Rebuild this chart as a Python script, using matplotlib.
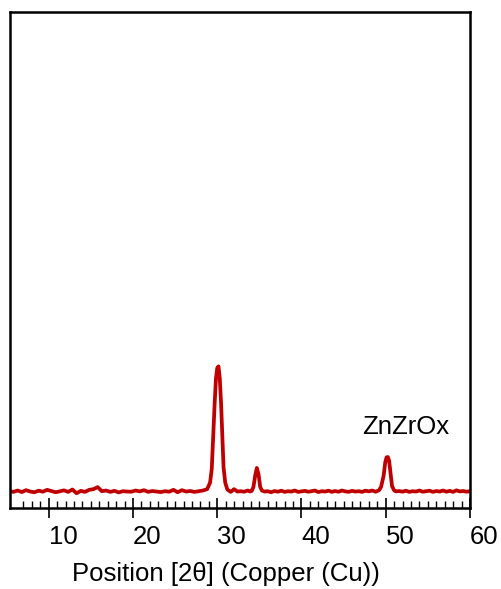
import numpy as np
import matplotlib.pyplot as plt
from matplotlib.ticker import FixedLocator

plt.rcParams['font.family'] = ['Liberation Sans', 'DejaVu Sans']

# 2-theta positions (deg) and intensities (counts)
two_theta = [
    5.4, 5.8, 6.3, 6.8, 7.3, 7.8, 8.3, 8.8, 9.3, 9.8,
    10.3, 10.8, 11.3, 11.8, 12.3, 12.8, 13.3, 13.8, 14.3, 14.8,
    15.3, 15.8, 16.3, 16.8, 17.3, 17.8, 18.3, 18.8, 19.3, 19.8,
    20.3, 20.8, 21.3, 21.8, 22.3, 22.8, 23.3, 23.8, 24.3, 24.8,
    25.3, 25.8, 26.3, 26.8, 27.3, 27.8, 28.3, 28.8, 29.15, 29.35,
    29.55, 29.7, 29.85, 30.0, 30.15, 30.3, 30.45, 30.6, 30.75, 30.95,
    31.2, 31.6, 32.0, 32.4, 32.8, 33.2, 33.6, 33.9, 34.1, 34.3,
    34.5, 34.7, 34.9, 35.1, 35.3, 35.6, 36.0, 36.4, 36.8, 37.2,
    37.6, 38.0, 38.4, 38.8, 39.2, 39.6, 40.0, 40.4, 40.8, 41.2,
    41.6, 42.0, 42.4, 42.8, 43.2, 43.6, 44.0, 44.4, 44.8, 45.2,
    45.6, 46.0, 46.4, 46.8, 47.2, 47.6, 48.0, 48.4, 48.8, 49.2,
    49.45, 49.75, 49.95, 50.1, 50.25, 50.4, 50.55, 50.75, 51.0, 51.2,
    51.6, 52.0, 52.4, 52.8, 53.2, 53.6, 54.0, 54.4, 54.8, 55.2,
    55.6, 56.0, 56.4, 56.8, 57.2, 57.6, 58.0, 58.4, 58.8, 59.2,
    59.6, 60.0,
]
counts = [
    100, 96, 104, 95, 106, 98, 94, 103, 97, 108,
    101, 94, 99, 105, 96, 110, 88, 102, 96, 108,
    112, 124, 100, 104, 96, 102, 93, 100, 98, 97,
    104, 99, 106, 96, 101, 98, 95, 100, 97, 108,
    94, 106, 98, 101, 96, 100, 104, 112, 150, 230,
    450, 620, 760, 820, 830, 760, 620, 430, 240, 150,
    110, 96, 112, 98, 100, 97, 104, 98, 102, 125,
    190, 236, 200, 125, 104, 98, 100, 94, 101, 97,
    103, 96, 100, 98, 104, 96, 99, 102, 97, 100,
    104, 95, 100, 98, 103, 96, 101, 97, 104, 99,
    96, 102, 98, 100, 96, 103, 99, 104, 97, 105,
    125, 190, 270, 298, 300, 280, 215, 130, 105, 99,
    101, 97, 103, 96, 100, 98, 104, 97, 100, 103,
    96, 101, 98, 104, 97, 102, 96, 105, 99, 101,
    97, 100,
]

tick_values = [10, 20, 30, 40, 50, 60]
tick_labels = ['10', '20', '30', '40', '50', '60']

peak_label = 'ZnZrOx'
label_pos = (52.4, 433)

fig, ax = plt.subplots(figsize=(5.01, 5.89), dpi=100)
fig.subplots_adjust(left=0.02, right=0.938, bottom=0.137, top=0.979)

ax.plot(two_theta, counts, color='#c00000', lw=2.7, solid_joinstyle='round')
ax.text(*label_pos, peak_label, ha='center', va='baseline', fontsize=18.5)

ax.set_xlim(5.4, 60)
ax.set_ylim(0, 2900)
ax.set_yticks([])

ax.set_xticks(tick_values)
# numbers sit just to the right of their tick
ax.set_xticklabels(tick_labels, ha='left')
ax.xaxis.set_minor_locator(FixedLocator(np.arange(7, 60)))
ax.tick_params(axis='x', which='major', direction='inout', length=14,
               width=1.2, labelsize=18.5, pad=5)
ax.tick_params(axis='x', which='minor', direction='in', length=5, width=1.0)

for s in ax.spines.values():
    s.set_linewidth(1.8)

ax.set_xlabel('Position [2θ] (Copper (Cu))', fontsize=18.5, va='top')
ax.xaxis.set_label_coords(0.47, -0.108)

plt.savefig('out.png', dpi=100)
